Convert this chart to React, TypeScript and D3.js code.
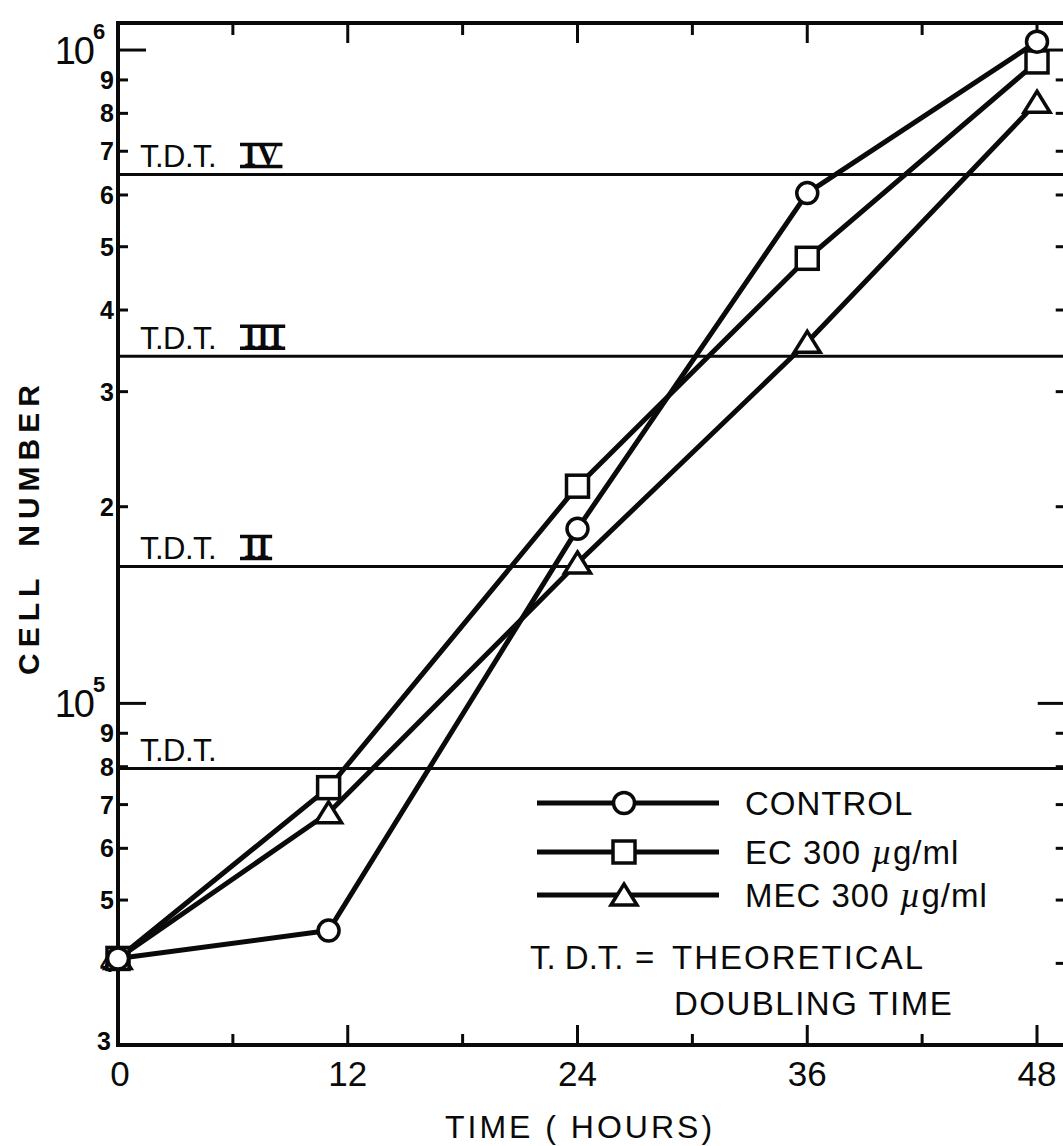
import { useEffect, useRef } from "react"
import * as d3 from "d3"

// time points (hours) and cell counts
const hours = [0, 11, 24, 36, 48]
const controlValues = [40700, 44900, 185000, 604000, 1030000]
const ecValues = [40700, 74300, 215000, 480000, 959000]
const mecValues = [40700, 68000, 164000, 357000, 832000]

// theoretical doubling time levels
const tdtLevels = [79500, 162000, 340000, 645000]
const tdtNumerals = ["", "II", "III", "IV"]

const xMajorTicks = [0, 12, 24, 36, 48]
const xMinorTicks = [6, 18, 30, 42]
const yDecades = [1e5, 1e6]
const yMinorTicks = [3e4, 4e4, 5e4, 6e4, 7e4, 8e4, 9e4, 2e5, 3e5, 4e5, 5e5, 6e5, 7e5, 8e5, 9e5]

const seriesNames = ["CONTROL", "EC 300 µg/ml", "MEC 300 µg/ml"]
const seriesMarkers = ["circle", "square", "triangle"]

const FONT = "'Liberation Sans', Arial, sans-serif"
const INK = "#0a0a0a"

const W = 1063
const H = 1146

function drawMarker(g: d3.Selection<SVGGElement, unknown, null, undefined>, kind: string, x: number, y: number) {
  if (kind === "circle") {
    g.append("circle").attr("cx", x).attr("cy", y).attr("r", 10.5)
      .attr("fill", "#fff").attr("stroke", INK).attr("stroke-width", 3.5)
  } else if (kind === "square") {
    g.append("rect").attr("x", x - 11).attr("y", y - 11).attr("width", 22).attr("height", 22)
      .attr("fill", "#fff").attr("stroke", INK).attr("stroke-width", 3.5)
  } else {
    g.append("path").attr("d", `M${x},${y - 11}L${x + 13},${y + 10}L${x - 13},${y + 10}Z`)
      .attr("fill", "#fff").attr("stroke", INK).attr("stroke-width", 3.5).attr("stroke-linejoin", "miter")
  }
}

const App = () => {
  const svgRef = useRef<SVGSVGElement | null>(null)

  useEffect(() => {
    if (!svgRef.current) return
    const svg = d3.select(svgRef.current)
    svg.selectAll("*").remove()

    const xScale = d3.scaleLinear().domain([0, 48]).range([118, 1037])
    const yScale = d3.scaleLog().domain([3e4, 1.1e6]).range([1045, 23])

    const left = xScale(0)
    const right = xScale(49.5)
    const top = yScale(1.1e6)
    const bottom = yScale(3e4)

    const g = svg.append("g") as d3.Selection<SVGGElement, unknown, null, undefined>

    // TDT reference lines
    tdtLevels.forEach((v, i) => {
      const y = yScale(v)
      g.append("line").attr("x1", left).attr("x2", right).attr("y1", y).attr("y2", y)
        .attr("stroke", INK).attr("stroke-width", 3)
      g.append("text").attr("x", 140).attr("y", y - 7).attr("font-family", FONT)
        .attr("font-size", 31).attr("letter-spacing", -0.5).attr("fill", INK).text("T.D.T.")
      const num = tdtNumerals[i]
      if (num) {
        const t = g.append("text").attr("x", 244).attr("y", y - 9).attr("font-family", "'Liberation Serif', serif")
          .attr("font-size", 31).attr("font-weight", "bold").attr("letter-spacing", 1).attr("fill", INK).text(num)
        const len = (t.node() as SVGTextElement).getComputedTextLength()
        const x0 = 240
        const x1 = 244 + len + 2
        g.append("line").attr("x1", x0).attr("x2", x1).attr("y1", y - 30).attr("y2", y - 30)
          .attr("stroke", INK).attr("stroke-width", 3.5)
        g.append("line").attr("x1", x0).attr("x2", x1).attr("y1", y - 8).attr("y2", y - 8)
          .attr("stroke", INK).attr("stroke-width", 3.5)
      }
    })

    // frame
    g.append("rect").attr("x", left).attr("y", top).attr("width", right - left).attr("height", bottom - top)
      .attr("fill", "none").attr("stroke", INK).attr("stroke-width", 4)

    // x ticks (bottom and top)
    xMajorTicks.forEach((h) => {
      const x = xScale(h)
      if (h > 0) {
        g.append("line").attr("x1", x).attr("x2", x).attr("y1", bottom).attr("y2", bottom - 20)
          .attr("stroke", INK).attr("stroke-width", 3)
        g.append("line").attr("x1", x).attr("x2", x).attr("y1", top).attr("y2", top + 20)
          .attr("stroke", INK).attr("stroke-width", 3)
      }
      g.append("text").attr("x", x + (h === 0 ? 2 : 0)).attr("y", 1086).attr("text-anchor", "middle")
        .attr("font-family", FONT).attr("font-size", 35).attr("fill", INK).text(String(h))
    })
    xMinorTicks.forEach((h) => {
      const x = xScale(h)
      g.append("line").attr("x1", x).attr("x2", x).attr("y1", bottom).attr("y2", bottom - 11)
        .attr("stroke", INK).attr("stroke-width", 3)
      g.append("line").attr("x1", x).attr("x2", x).attr("y1", top).attr("y2", top + 12)
        .attr("stroke", INK).attr("stroke-width", 3)
    })

    // y ticks (left and right)
    yMinorTicks.forEach((v) => {
      const y = yScale(v)
      if (v > 3e4) {
        g.append("line").attr("x1", left).attr("x2", left + 10).attr("y1", y).attr("y2", y)
          .attr("stroke", INK).attr("stroke-width", 3)
        g.append("line").attr("x1", right).attr("x2", right - 10).attr("y1", y).attr("y2", y)
          .attr("stroke", INK).attr("stroke-width", 3)
      }
      const digit = String(Math.round(v / Math.pow(10, Math.floor(Math.log10(v) + 1e-9))))
      g.append("text").attr("x", v === 3e4 ? 111 : 114).attr("y", y + (v === 3e4 ? 5 : 9)).attr("text-anchor", "end")
        .attr("font-family", FONT).attr("font-size", 25).attr("font-weight", "bold").attr("fill", INK).text(digit)
    })
    yDecades.forEach((v) => {
      const y = yScale(v)
      g.append("line").attr("x1", left).attr("x2", left + 28).attr("y1", y).attr("y2", y)
        .attr("stroke", INK).attr("stroke-width", 3)
      g.append("line").attr("x1", right).attr("x2", right - 28).attr("y1", y).attr("y2", y)
        .attr("stroke", INK).attr("stroke-width", 3)
      g.append("text").attr("x", 93).attr("y", y + 14).attr("text-anchor", "end")
        .attr("font-family", FONT).attr("font-size", 38).attr("letter-spacing", -2).attr("fill", INK).text("10")
      g.append("text").attr("x", 93).attr("y", y - 11).attr("font-family", FONT)
        .attr("font-size", 22).attr("font-weight", "bold").attr("fill", INK).text(String(Math.round(Math.log10(v))))
    })

    // axis titles
    g.append("text").attr("x", 580).attr("y", 1138).attr("text-anchor", "middle")
      .attr("font-family", FONT).attr("font-size", 32).attr("letter-spacing", 3).attr("fill", INK)
      .text("TIME ( HOURS)")
    g.append("text").attr("transform", "translate(39,527) rotate(-90)").attr("text-anchor", "middle")
      .attr("font-family", FONT).attr("font-size", 30).attr("font-weight", "bold").attr("letter-spacing", 6)
      .attr("word-spacing", 12).attr("fill", INK).text("CELL NUMBER")

    // series lines
    const series = [controlValues, ecValues, mecValues]
    const line = d3.line<number>().x((_, i) => xScale(hours[i])).y((d) => yScale(d))
    series.forEach((vals) => {
      g.append("path").attr("d", line(vals)).attr("fill", "none").attr("stroke", INK)
        .attr("stroke-width", 5).attr("stroke-linejoin", "round")
    })
    // markers: triangles under squares under circles
    ;[2, 1, 0].forEach((s) => {
      series[s].forEach((v, i) => drawMarker(g, seriesMarkers[s], xScale(hours[i]), yScale(v)))
    })

    // legend
    const legendRows = [803, 852, 895]
    seriesNames.forEach((name, i) => {
      const y = legendRows[i]
      g.append("line").attr("x1", 537).attr("x2", 719).attr("y1", y).attr("y2", y)
        .attr("stroke", INK).attr("stroke-width", 5)
      drawMarker(g, seriesMarkers[i], 624, y)
      const t = g.append("text").attr("x", 745).attr("y", y + 12).attr("font-family", FONT)
        .attr("font-size", 33).attr("letter-spacing", 1).attr("fill", INK)
      if (name.includes("µ")) {
        const [pre, post] = name.split("µ")
        t.append("tspan").text(pre)
        t.append("tspan").attr("font-style", "italic").attr("font-family", "'Liberation Serif', serif").attr("font-size", 36).text("µ")
        t.append("tspan").text(post)
      } else {
        t.text(name)
      }
    })
    g.append("text").attr("x", 530).attr("y", 969).attr("font-family", FONT).attr("font-size", 33)
      .attr("fill", INK).attr("xml:space", "preserve").text("T. D.T.")
    g.append("text").attr("x", 635).attr("y", 969).attr("font-family", FONT).attr("font-size", 33)
      .attr("fill", INK).text("=")
    g.append("text").attr("x", 672).attr("y", 969).attr("font-family", FONT).attr("font-size", 33)
      .attr("letter-spacing", 2).attr("fill", INK).text("THEORETICAL")
    g.append("text").attr("x", 674).attr("y", 1015).attr("font-family", FONT).attr("font-size", 33)
      .attr("letter-spacing", 1.5).attr("fill", INK).text("DOUBLING TIME")
  }, [])

  return (
    <svg ref={svgRef} width={W} height={H} style={{ position: "absolute", left: 0, top: 0, background: "#fff" }} />
  )
}

export default App
